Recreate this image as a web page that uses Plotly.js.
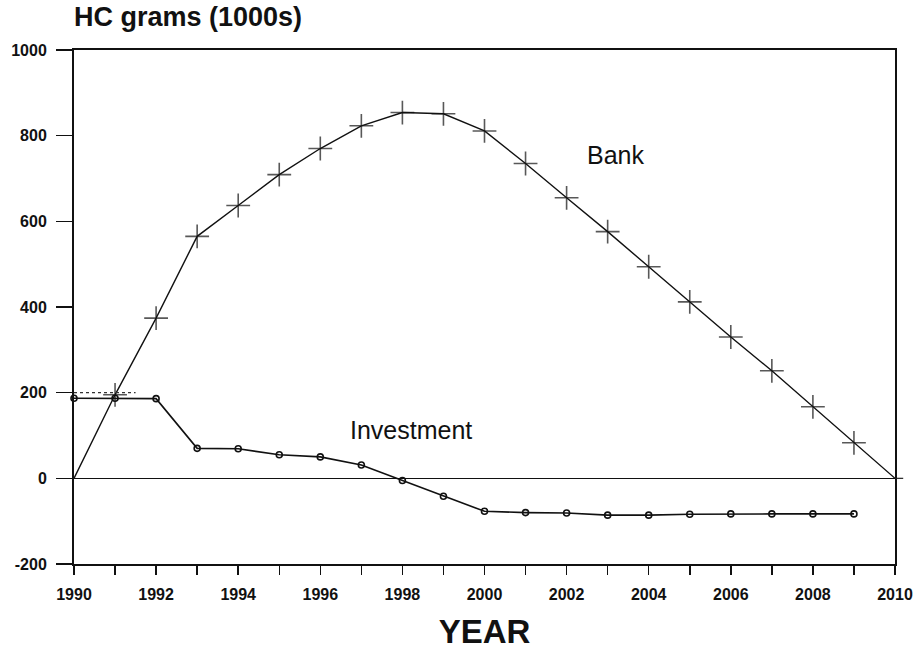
<!DOCTYPE html>
<html>
<head>
<meta charset="utf-8">
<script src="https://cdn.plot.ly/plotly-3.0.1.min.js"></script>
<style>
  html, body { margin: 0; padding: 0; background: #fff; }
  #chart { width: 922px; height: 652px; }
</style>
</head>
<body>
<div id="chart"></div>
<script>
// Years on the horizontal axis
const years = [1990, 1991, 1992, 1993, 1994, 1995, 1996, 1997, 1998, 1999, 2000,
               2001, 2002, 2003, 2004, 2005, 2006, 2007, 2008, 2009, 2010];

// Bank balance, HC grams (1000s)
const bankValues = [0, 195, 374, 565, 637, 709, 770, 823, 854, 851, 811,
                    735, 655, 576, 494, 412, 330, 251, 167, 83, 0];

// Investment, HC grams (1000s), 1990-2009
const investYears = years.slice(0, 20);
const investValues = [187, 187, 186, 70, 69, 55, 50, 31, -5, -42, -77,
                      -80, -81, -86, -86, -84, -83, -83, -83, -83];

// Axis ticks: every year is ticked, every second year is labelled
const xTickVals = years;
const xTickText = years.map(y => (y % 2 === 0 ? String(y) : ''));
const yTickVals = [-200, 0, 200, 400, 600, 800, 1000];
const yTickText = yTickVals.map(String);

const FONT = 'Liberation Sans, Arial, Helvetica, sans-serif';

// the bank line starts and ends at zero without a marker
const bankMarkerSize = years.map((_, i) => (i === 0 || i === years.length - 1 ? 0 : 17));

const bank = {
  x: years,
  y: bankValues,
  type: 'scatter',
  mode: 'lines+markers',
  name: 'Bank',
  line: { color: '#111', width: 1.4 },
  marker: { symbol: 'cross-thin-open', size: bankMarkerSize, line: { color: '#000', width: 1.6 } },
  cliponaxis: false
};

const investment = {
  x: investYears,
  y: investValues,
  type: 'scatter',
  mode: 'lines+markers',
  name: 'Investment',
  line: { color: '#111', width: 1.6 },
  marker: { symbol: 'circle-open', size: 6, color: '#111', line: { color: '#111', width: 1.6 } },
  cliponaxis: false
};

const layout = {
  width: 922,
  height: 652,
  margin: { l: 74, r: 27, t: 50, b: 88 },
  paper_bgcolor: '#fff',
  plot_bgcolor: '#fff',
  showlegend: false,
  font: { family: FONT, color: '#111' },
  title: {
    text: 'HC grams (1000s)',
    font: { family: FONT, size: 27, weight: 'bold', color: '#111' },
    xref: 'paper', x: 0, xanchor: 'left',
    yref: 'container', y: 0.975, yanchor: 'middle'
  },
  xaxis: {
    range: [1990, 2010],
    tickmode: 'array',
    tickvals: xTickVals,
    ticktext: xTickText,
    ticks: 'outside',
    ticklen: 9,
    tickwidth: 1.5,
    tickcolor: '#111',
    ticklabelstandoff: 6,
    tickfont: { family: FONT, size: 16, weight: 'bold', color: '#111' },
    showgrid: false,
    zeroline: false,
    showline: true,
    linecolor: '#111',
    linewidth: 2,
    mirror: true,
    title: {
      text: 'YEAR',
      font: { family: FONT, size: 33, weight: 'bold', color: '#111' },
      standoff: 18
    }
  },
  yaxis: {
    range: [-200, 1000],
    tickmode: 'array',
    tickvals: yTickVals,
    ticktext: yTickText,
    ticks: 'outside',
    ticklen: 16,
    tickwidth: 1.5,
    tickcolor: '#111',
    ticklabelstandoff: 6,
    tickfont: { family: FONT, size: 16, weight: 'bold', color: '#111' },
    showgrid: false,
    zeroline: true,
    zerolinecolor: '#111',
    zerolinewidth: 1.4,
    showline: true,
    linecolor: '#111',
    linewidth: 2,
    mirror: true
  },
  shapes: [
    // short dotted guide off the 200 tick
    { type: 'line', xref: 'x', yref: 'y', x0: 1990, x1: 1991.5, y0: 200, y1: 200,
      line: { color: '#333', width: 1.4, dash: 'dot' } },
    // zero line runs a little past the right frame
    { type: 'line', xref: 'paper', yref: 'y', x0: 1, x1: 1.01, y0: 0, y1: 0,
      line: { color: '#222', width: 1.2, dash: 'dash' } }
  ],
  annotations: [
    { text: 'Bank', x: 2003.2, y: 755, xref: 'x', yref: 'y', showarrow: false,
      font: { family: FONT, size: 25, color: '#111' } },
    { text: 'Investment', x: 1998.2, y: 112, xref: 'x', yref: 'y', showarrow: false,
      font: { family: FONT, size: 25, color: '#111' } }
  ]
};

Plotly.newPlot('chart', [bank, investment], layout, { staticPlot: true, displayModeBar: false });
</script>
</body>
</html>
